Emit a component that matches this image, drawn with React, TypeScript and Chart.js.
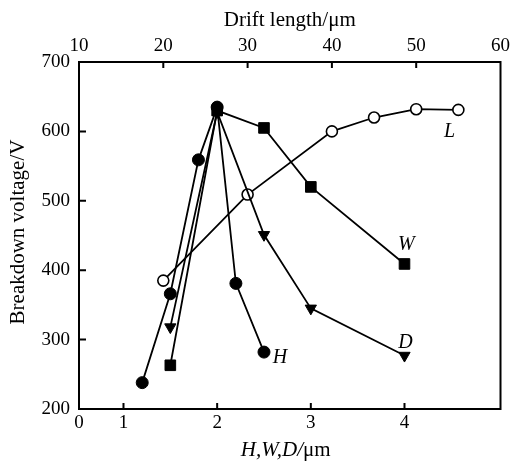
import React, { useEffect, useRef } from 'react';
import { Chart, registerables } from 'chart.js';
Chart.register(...registerables);

// H, W, D series (bottom axis, µm) and L series (top axis, drift length µm)
const hX = [1.2, 1.5, 1.8, 2.0, 2.2, 2.5];
const hY = [238, 366, 559, 635, 381, 282];
const wX = [1.5, 2.0, 2.5, 3.0, 4.0];
const wY = [263, 630, 605, 520, 409];
const dX = [1.5, 2.0, 2.5, 3.0, 4.0];
const dY = [318, 628, 451, 345, 277];
const lX = [20, 30, 40, 45, 50, 55];
const lY = [385, 509, 600, 620, 632, 631];

const seriesNames = ['H', 'W', 'D', 'L'];
const labelX = [2.67, 4.02, 4.01, 4.48];
const labelY = [274, 436, 296, 600];

const xBottomMin = 0.525;
const xBottomMax = 5.025;
const xBottomTickValues = [1, 2, 3, 4];
const xBottomTickLabels = ['0', '1', '2', '3', '4'];
const xTopTicks = [10, 20, 30, 40, 50, 60];
const yTicks = [200, 300, 400, 500, 600, 700];

const FONT = "'Liberation Serif', 'DejaVu Serif', serif";

const toPts = (xs: number[], ys: number[]) => xs.map((x, i) => ({ x, y: ys[i] }));

const framePlugin = {
  id: 'frameAndText',
  afterDraw(chart: any) {
    const { ctx, chartArea: a, scales } = chart;
    ctx.save();
    // frame
    ctx.strokeStyle = '#000';
    ctx.lineWidth = 2;
    ctx.strokeRect(a.left, a.top, a.right - a.left, a.bottom - a.top);
    // inward ticks
    ctx.lineWidth = 2;
    const tl = 6;
    ctx.beginPath();
    scales.x.ticks.forEach((t: any) => {
      const px = scales.x.getPixelForValue(t.value);
      if (px <= a.left + 1 || px >= a.right - 1) return;
      ctx.moveTo(px, a.bottom);
      ctx.lineTo(px, a.bottom - tl);
    });
    scales.x2.ticks.forEach((t: any) => {
      const px = scales.x2.getPixelForValue(t.value);
      if (px <= a.left + 1 || px >= a.right - 1) return;
      ctx.moveTo(px, a.top);
      ctx.lineTo(px, a.top + tl);
    });
    scales.y.ticks.forEach((t: any) => {
      const py = scales.y.getPixelForValue(t.value);
      if (py <= a.top + 1 || py >= a.bottom - 1) return;
      ctx.moveTo(a.left, py);
      ctx.lineTo(a.left + 7, py);
    });
    ctx.stroke();

    ctx.fillStyle = '#000';
    // series labels
    ctx.font = `italic 20px ${FONT}`;
    ctx.textAlign = 'center';
    ctx.textBaseline = 'middle';
    seriesNames.forEach((n, i) => {
      ctx.fillText(n, scales.x.getPixelForValue(labelX[i]), scales.y.getPixelForValue(labelY[i]));
    });

    // top title
    const cx = (a.left + a.right) / 2;
    ctx.font = `21px ${FONT}`;
    ctx.fillText('Drift length/\u03bcm', cx, 20);

    // bottom title (mixed style)
    const p1 = 'H,W,D/';
    const p2 = '\u03bcm';
    ctx.font = `italic 21px ${FONT}`;
    const w1 = ctx.measureText(p1).width;
    ctx.font = `21px ${FONT}`;
    const w2 = ctx.measureText(p2).width;
    const sx = cx - 4 - (w1 + w2) / 2;
    ctx.textAlign = 'left';
    ctx.font = `italic 21px ${FONT}`;
    ctx.fillText(p1, sx, 450);
    ctx.font = `21px ${FONT}`;
    ctx.fillText(p2, sx + w1, 450);

    // y title
    ctx.translate(18, 232);
    ctx.rotate(-Math.PI / 2);
    ctx.textAlign = 'center';
    ctx.font = `21px ${FONT}`;
    ctx.fillText('Breakdown voltage/V', 0, 0);
    ctx.restore();
  },
};

export default function App() {
  const ref = useRef<HTMLCanvasElement>(null);
  useEffect(() => {
    if (!ref.current) return;
    const common = { showLine: true, borderColor: '#000', borderWidth: 1.8, pointBorderColor: '#000' };
    const chart = new Chart(ref.current, {
      type: 'scatter',
      data: {
        datasets: [
          { ...common, label: 'H', data: toPts(hX, hY), xAxisID: 'x', pointStyle: 'circle', pointRadius: 6, pointBackgroundColor: '#000', pointBorderWidth: 1 },
          { ...common, label: 'W', data: toPts(wX, wY), xAxisID: 'x', pointStyle: 'rect', pointRadius: 7.5, pointBackgroundColor: '#000', pointBorderWidth: 1 },
          { ...common, label: 'D', data: toPts(dX, dY), xAxisID: 'x', pointStyle: 'triangle', pointRotation: 180, pointRadius: 6.5, pointBackgroundColor: '#000', pointBorderWidth: 1 },
          { ...common, label: 'L', data: toPts(lX, lY), xAxisID: 'x2', pointStyle: 'circle', pointRadius: 5.5, pointBackgroundColor: '#fff', pointBorderWidth: 1.6 },
        ],
      },
      options: {
        animation: false,
        responsive: false,
        maintainAspectRatio: false,
        events: [],
        layout: { padding: { left: 0, right: 10, top: 0, bottom: 0 } },
        plugins: { legend: { display: false }, tooltip: { enabled: false }, title: { display: false } },
        scales: {
          x: {
            type: 'linear',
            position: 'bottom',
            min: xBottomMin,
            max: xBottomMax,
            afterBuildTicks: (s: any) => {
              s.ticks = [xBottomMin, ...xBottomTickValues].map((v) => ({ value: v }));
            },
            afterFit: (s: any) => { s.height = 53; },
            grid: { display: false, drawTicks: false },
            border: { display: false },
            ticks: {
              autoSkip: false,
              maxRotation: 0,
              padding: 3,
              color: '#000',
              font: { family: FONT, size: 19 },
              callback: (_v: any, i: number) => xBottomTickLabels[i],
            },
          },
          x2: {
            type: 'linear',
            position: 'top',
            min: xTopTicks[0],
            max: xTopTicks[xTopTicks.length - 1],
            afterBuildTicks: (s: any) => { s.ticks = xTopTicks.map((v) => ({ value: v })); },
            afterFit: (s: any) => { s.height = 62; },
            grid: { display: false, drawTicks: false },
            border: { display: false },
            ticks: {
              autoSkip: false,
              maxRotation: 0,
              padding: 5,
              color: '#000',
              font: { family: FONT, size: 19 },
            },
          },
          y: {
            type: 'linear',
            position: 'left',
            min: yTicks[0],
            max: yTicks[yTicks.length - 1],
            afterBuildTicks: (s: any) => { s.ticks = yTicks.map((v) => ({ value: v })); },
            afterFit: (s: any) => { s.width = 79; },
            grid: { display: false, drawTicks: false },
            border: { display: false },
            ticks: {
              padding: 9,
              color: '#000',
              font: { family: FONT, size: 19 },
            },
          },
        },
      },
      plugins: [framePlugin],
    } as any);
    return () => chart.destroy();
  }, []);
  return (
    <div style={{ position: 'fixed', left: 0, top: 0, width: 515, height: 462, background: '#fff' }}>
      <canvas ref={ref} width={515} height={462} style={{ width: 515, height: 462 }} />
    </div>
  );
}
